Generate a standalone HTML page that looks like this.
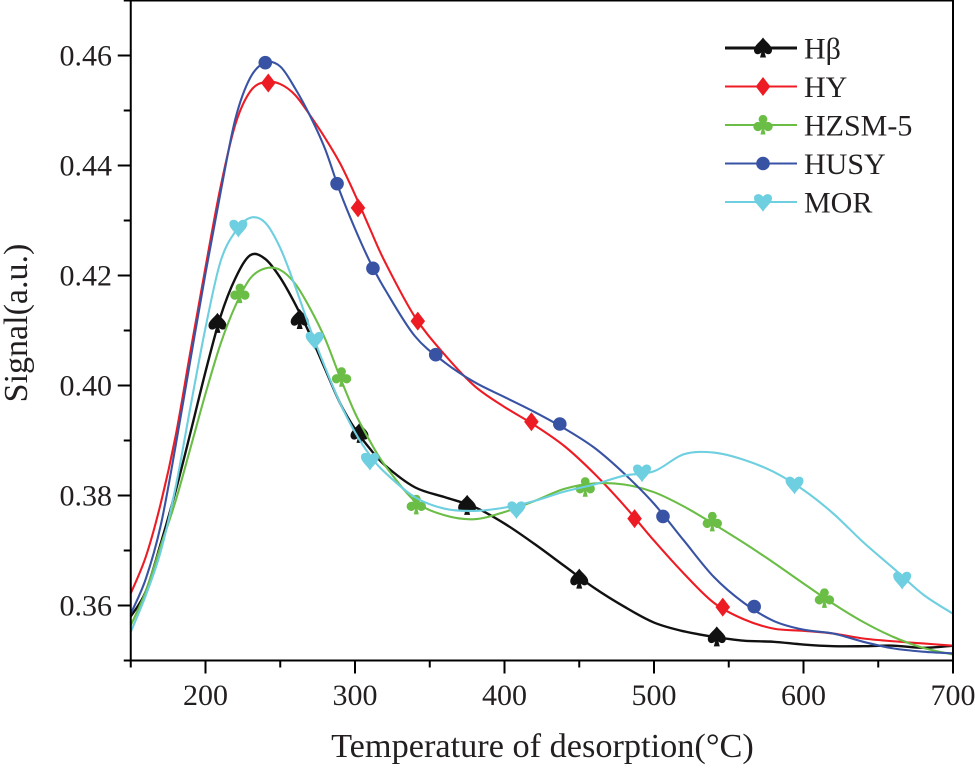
<!DOCTYPE html>
<html lang="en">
<head>
<meta charset="utf-8">
<title>Signal vs temperature of desorption</title>
<style>
html,body{margin:0;padding:0;background:#fff;width:975px;height:768px;overflow:hidden}
svg{display:block}
text{font-family:"Liberation Serif","DejaVu Serif",serif;fill:#231f20}
</style>
</head>
<body>
<svg id="chart" width="975" height="768" viewBox="0 0 975 768" xmlns="http://www.w3.org/2000/svg"></svg>
<script>
const temps = [150,160,170,180,190,200,210,220,230,240,250,260,270,280,290,300,310,320,340,360,380,400,420,440,460,480,500,520,540,560,580,600,620,640,660,680,700];
const hBeta = [.3580,.3625,.3712,.3808,.3915,.4025,.4125,.4195,.4237,.4230,.4196,.4148,.4092,.4030,.3968,.3921,.3885,.3855,.3815,.3797,.3779,.3749,.3712,.3672,.3632,.3598,.3569,.3553,.3543,.3536,.3534,.3529,.3526,.3526,.3527,.3523,.3527];
const hY = [.3622,.3688,.3785,.3908,.4063,.4215,.4360,.4475,.4535,.4552,.4548,.4528,.4491,.4450,.4404,.4347,.4285,.4225,.4125,.4056,.3999,.3961,.3928,.3890,.3840,.3782,.3718,.3658,.3605,.3575,.3558,.3554,.3549,.3540,.3535,.3531,.3527];
const hZsm5 = [.3564,.3625,.3708,.3790,.3887,.3985,.4075,.4145,.4195,.4213,.4210,.4185,.4140,.4085,.4015,.3950,.3899,.3855,.3790,.3764,.3757,.3770,.3790,.3812,.3822,.3820,.3806,.3780,.3748,.3714,.3678,.3640,.3603,.3570,.3543,.3523,.3511];
const hUsy = [.3585,.3648,.3745,.3890,.4048,.4204,.4350,.4485,.4560,.4587,.4580,.4540,.4490,.4430,.4352,.4285,.4225,.4175,.4090,.4042,.4006,.3979,.3952,.3922,.3887,.3840,.3785,.3718,.3652,.3605,.3572,.3556,.3549,.3534,.3522,.3516,.3513];
const mor = [.3552,.3618,.3698,.3815,.3962,.4105,.4225,.4280,.4305,.4296,.4250,.4180,.4103,.4033,.3968,.3915,.3873,.3842,.3797,.3776,.3772,.3778,.3790,.3807,.3820,.3836,.3844,.3875,.3878,.3865,.3843,.3810,.3767,.3715,.3668,.3620,.3585];

const hBetaMarkerT = [208,263,303,375,450,542];
const hBetaMarkerV = [.4113,.4120,.3913,.3782,.3648,.3543];
const hYMarkerT = [242,302,342,418,487,546];
const hYMarkerV = [.4550,.4323,.4117,.3934,.3758,.3597];
const hZsm5MarkerT = [223,291,341,454,539,614];
const hZsm5MarkerV = [.4167,.4015,.3783,.3815,.3752,.3613];
const hUsyMarkerT = [240,288,312,354,437,506,567];
const hUsyMarkerV = [.4587,.4367,.4213,.4056,.3930,.3762,.3598];
const morMarkerT = [222,273,310,408,492,594,666];
const morMarkerV = [.4287,.4083,.3863,.3775,.3842,.3820,.3647];

const xTickLabels = [200,300,400,500,600,700];
const xMinorTicks = [150,250,350,450,550,650];
const yTickLabels = [0.36,0.38,0.40,0.42,0.44,0.46];
const yMinorTicks = [0.35,0.37,0.39,0.41,0.43,0.45,0.47];

const NS = 'http://www.w3.org/2000/svg';
const svg = document.getElementById('chart');
const xScale = t => 130.75 + (t - 150) * 1.495;
const yScale = v => 55.5 + (0.46 - v) * 5500;

function make(tag, attrs, parent) {
  const el = document.createElementNS(NS, tag);
  for (const k in attrs) el.setAttribute(k, attrs[k]);
  (parent || svg).appendChild(el);
  return el;
}

function smoothPath(xs, ys) {
  const p = xs.map((t, i) => [xScale(t), yScale(ys[i])]);
  let d = 'M' + p[0][0].toFixed(2) + ',' + p[0][1].toFixed(2);
  for (let i = 0; i < p.length - 1; i++) {
    const a = p[Math.max(i - 1, 0)], b = p[i], c = p[i + 1], e = p[Math.min(i + 2, p.length - 1)];
    const c1x = b[0] + (c[0] - a[0]) / 6, c1y = b[1] + (c[1] - a[1]) / 6;
    const c2x = c[0] - (e[0] - b[0]) / 6, c2y = c[1] - (e[1] - b[1]) / 6;
    d += 'C' + c1x.toFixed(2) + ',' + c1y.toFixed(2) + ' ' + c2x.toFixed(2) + ',' + c2y.toFixed(2) + ' ' + c[0].toFixed(2) + ',' + c[1].toFixed(2);
  }
  return d;
}

const shapes = {
  spade: 'M0,-10.5C3,-6 9,-2.5 9,2C9,6.5 4.5,7.5 1.6,4.5L3,9.5L-3,9.5L-1.6,4.5C-4.5,7.5 -9,6.5 -9,2C-9,-2.5 -3,-6 0,-10.5Z',
  diamond: 'M0,-9.5L7.3,0L0,9.5L-7.3,0Z',
  club: 'M0,-10A4.3,4.3 0 0 1 3,-2.6A4.6,4.6 0 1 1 1.2,4L2.5,9.5L-2.5,9.5L-1.2,4A4.6,4.6 0 1 1 -3,-2.6A4.3,4.3 0 0 1 0,-10Z',
  circle: 'M-6.8,0A6.8,6.8 0 1 1 6.8,0A6.8,6.8 0 1 1 -6.8,0Z',
  heart: 'M0,9.8C-2.5,5 -9,1 -9,-3.8C-9,-8.5 -2.8,-9.5 0,-5.2C2.8,-9.5 9,-8.5 9,-3.8C9,1 2.5,5 0,9.8Z'
};

const seriesList = [
  {key:'h-beta', label:'Hβ', vals:hBeta, mt:hBetaMarkerT, mv:hBetaMarkerV, color:'#111111', w:2.4, shape:'spade'},
  {key:'hy', label:'HY', vals:hY, mt:hYMarkerT, mv:hYMarkerV, color:'#ed1c24', w:2.1, shape:'diamond'},
  {key:'hzsm-5', label:'HZSM-5', vals:hZsm5, mt:hZsm5MarkerT, mv:hZsm5MarkerV, color:'#6abd45', w:2.1, shape:'club'},
  {key:'husy', label:'HUSY', vals:hUsy, mt:hUsyMarkerT, mv:hUsyMarkerV, color:'#3953a4', w:2.1, shape:'circle'},
  {key:'mor', label:'MOR', vals:mor, mt:morMarkerT, mv:morMarkerV, color:'#6dcfdf', w:2.1, shape:'heart'}
];

// series
seriesList.forEach(s => {
  const line = make('path', {d:smoothPath(temps, s.vals), fill:'none', stroke:s.color, 'stroke-width':s.w, 'stroke-linejoin':'round'});
  
  
  s.mt.forEach((t, i) => {
    const m = make('path', {d:shapes[s.shape], fill:s.color, transform:'translate(' + xScale(t).toFixed(2) + ',' + yScale(s.mv[i]).toFixed(2) + ')'});
    
    
  });
});

// plot frame
const frame = make('rect', {x:xScale(150), y:yScale(0.47), width:xScale(700) - xScale(150), height:yScale(0.35) - yScale(0.47), fill:'none', stroke:'#000', 'stroke-width':2});



// x ticks
xTickLabels.forEach(t => {
  const tick = make('line', {x1:xScale(t), x2:xScale(t), y1:yScale(0.35), y2:yScale(0.35) + 13, stroke:'#000', 'stroke-width':2});
  
  
  const lab = make('text', {x:xScale(t), y:705, 'font-size':30, 'text-anchor':'middle'});
  lab.textContent = String(t);
  
  
});
xMinorTicks.forEach(t => {
  const tick = make('line', {x1:xScale(t), x2:xScale(t), y1:yScale(0.35), y2:yScale(0.35) + 7, stroke:'#000', 'stroke-width':2});
  
  
});

// y ticks
yTickLabels.forEach(v => {
  const tick = make('line', {x1:xScale(150) - 13, x2:xScale(150), y1:yScale(v), y2:yScale(v), stroke:'#000', 'stroke-width':2});
  
  
  const lab = make('text', {x:112, y:yScale(v) + 10, 'font-size':30, 'text-anchor':'end'});
  lab.textContent = v.toFixed(2);
  
  
});
yMinorTicks.forEach(v => {
  const tick = make('line', {x1:xScale(150) - 7, x2:xScale(150), y1:yScale(v), y2:yScale(v), stroke:'#000', 'stroke-width':2});
  
  
});

// axis titles
const xTitle = make('text', {x:542.5, y:757, 'font-size':34.3, 'text-anchor':'middle'});
xTitle.textContent = 'Temperature of desorption(°C)';


const yTitle = make('text', {x:0, y:0, 'font-size':34, 'text-anchor':'middle', transform:'translate(27,323) rotate(-90)'});
yTitle.textContent = 'Signal(a.u.)';



// legend
seriesList.forEach((s, i) => {
  const y = 48 + i * 38.5;
  const g = make('g', {});
  
  
  make('line', {x1:725, x2:797, y1:y, y2:y, stroke:s.color, 'stroke-width':s.key === 'h-beta' ? 3 : 2}, g);
  make('path', {d:shapes[s.shape], fill:s.color, transform:'translate(763,' + y + ')'}, g);
  const t = make('text', {x:804, y:y + 10.5, 'font-size':30}, g);
  t.textContent = s.label;
});
</script>
</body>
</html>
